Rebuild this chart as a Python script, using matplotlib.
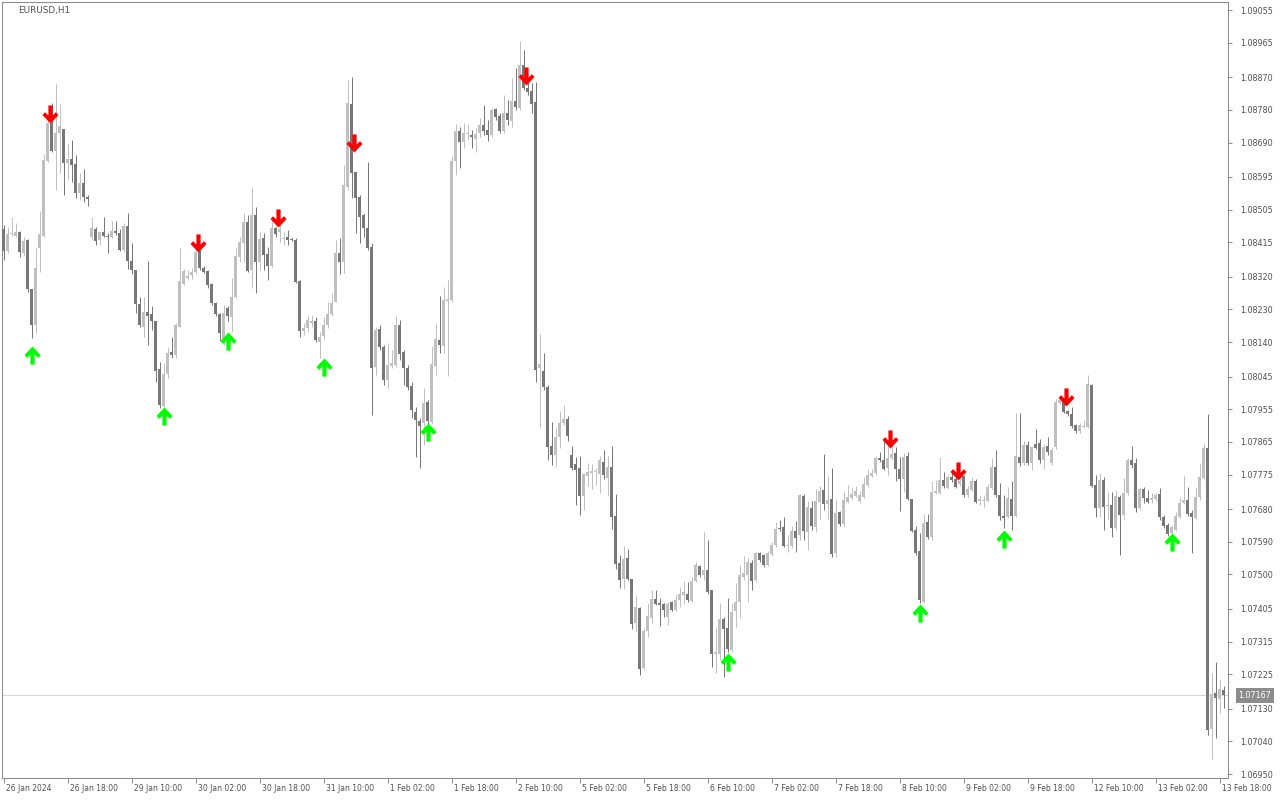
import matplotlib
matplotlib.use('Agg')
import matplotlib.pyplot as plt
import matplotlib.transforms as mtransforms
from matplotlib.path import Path
import numpy as np

# EURUSD H1, 26 Jan 2024 02:00 -> 13 Feb 2024 19:00 (306 bars)
opens = [
    1.08452, 1.08391, 1.08438, 1.08433, 1.08444, 1.08386, 1.08422, 1.08287, 1.08188, 1.08400,
    1.08433, 1.08639, 1.08744, 1.08667, 1.08717, 1.08727, 1.08634, 1.08645, 1.08631, 1.08552,
    1.08579, 1.08541, 1.08430, 1.08452, 1.08422, 1.08444, 1.08433, 1.08430, 1.08446, 1.08441,
    1.08394, 1.08461, 1.08364, 1.08339, 1.08246, 1.08183, 1.08224, 1.08218, 1.08199, 1.08066,
    1.07965, 1.08053, 1.08113, 1.08105, 1.08183, 1.08301, 1.08317, 1.08325, 1.08334, 1.08391,
    1.08345, 1.08337, 1.08301, 1.08249, 1.08218, 1.08149, 1.08235, 1.08210, 1.08265, 1.08375,
    1.08413, 1.08471, 1.08339, 1.08490, 1.08361, 1.08427, 1.08383, 1.08350, 1.08455, 1.08444,
    1.08424, 1.08430, 1.08424, 1.08422, 1.08309, 1.08171, 1.08180, 1.08193, 1.08197, 1.08141,
    1.08157, 1.08186, 1.08218, 1.08251, 1.08386, 1.08361, 1.08568, 1.08797, 1.08609, 1.08541,
    1.08490, 1.08455, 1.08402, 1.08072, 1.08177, 1.08127, 1.08036, 1.08075, 1.08077, 1.08186,
    1.08113, 1.08069, 1.08020, 1.07948, 1.07923, 1.07918, 1.07976, 1.07921, 1.08075, 1.08146,
    1.08130, 1.08254, 1.08257, 1.08639, 1.08722, 1.08692, 1.08714, 1.08711, 1.08700, 1.08717,
    1.08739, 1.08725, 1.08711, 1.08783, 1.08763, 1.08722, 1.08772, 1.08750, 1.08805, 1.08786,
    1.08904, 1.08841, 1.08832, 1.08802, 1.08069, 1.08061, 1.08017, 1.07854, 1.07829, 1.07879,
    1.07918, 1.07929, 1.07829, 1.07805, 1.07794, 1.07717, 1.07772, 1.07780, 1.07783, 1.07777,
    1.07810, 1.07766, 1.07797, 1.07662, 1.07532, 1.07488, 1.07546, 1.07488, 1.07367, 1.07408,
    1.07243, 1.07345, 1.07380, 1.07433, 1.07422, 1.07419, 1.07383, 1.07424, 1.07402, 1.07430,
    1.07444, 1.07446, 1.07427, 1.07482, 1.07524, 1.07499, 1.07513, 1.07458, 1.07281, 1.07281,
    1.07378, 1.07353, 1.07292, 1.07400, 1.07424, 1.07493, 1.07499, 1.07532, 1.07485, 1.07560,
    1.07554, 1.07526, 1.07557, 1.07582, 1.07628, 1.07631, 1.07579, 1.07579, 1.07620, 1.07609,
    1.07717, 1.07617, 1.07684, 1.07631, 1.07700, 1.07733, 1.07695, 1.07708, 1.07560, 1.07672,
    1.07639, 1.07700, 1.07711, 1.07717, 1.07703, 1.07714, 1.07747, 1.07772, 1.07780, 1.07821,
    1.07816, 1.07794, 1.07821, 1.07835, 1.07791, 1.07763, 1.07827, 1.07708, 1.07623, 1.07565,
    1.07424, 1.07645, 1.07604, 1.07725, 1.07725, 1.07761, 1.07739, 1.07769, 1.07763, 1.07750,
    1.07772, 1.07719, 1.07733, 1.07758, 1.07703, 1.07703, 1.07703, 1.07739, 1.07797, 1.07719,
    1.07661, 1.07659, 1.07708, 1.07661, 1.07824, 1.07808, 1.07857, 1.07808, 1.07860, 1.07862,
    1.07816, 1.07854, 1.07808, 1.07851, 1.07973, 1.07976, 1.07951, 1.07943, 1.07912, 1.07896,
    1.07907, 1.07907, 1.08022, 1.07747, 1.07684, 1.07761, 1.07689, 1.07692, 1.07628, 1.07714,
    1.07664, 1.07725, 1.07816, 1.07808, 1.07684, 1.07736, 1.07711, 1.07706, 1.07708, 1.07722,
    1.07659, 1.07637, 1.07615, 1.07623, 1.07659, 1.07697, 1.07706, 1.07670, 1.07656, 1.07714,
    1.07766, 1.07849, 1.07074, 1.07173, 1.07157, 1.07182,
]
highs = [
    1.08463, 1.08458, 1.08485, 1.08469, 1.08446, 1.08430, 1.08424, 1.08287, 1.08400, 1.08501,
    1.08659, 1.08758, 1.08800, 1.08852, 1.08797, 1.08727, 1.08689, 1.08697, 1.08656, 1.08607,
    1.08617, 1.08546, 1.08485, 1.08458, 1.08444, 1.08485, 1.08441, 1.08474, 1.08474, 1.08452,
    1.08469, 1.08496, 1.08413, 1.08339, 1.08265, 1.08265, 1.08364, 1.08240, 1.08199, 1.08086,
    1.08083, 1.08127, 1.08155, 1.08193, 1.08400, 1.08342, 1.08339, 1.08345, 1.08413, 1.08397,
    1.08350, 1.08339, 1.08303, 1.08251, 1.08221, 1.08243, 1.08240, 1.08317, 1.08400, 1.08430,
    1.08496, 1.08490, 1.08568, 1.08513, 1.08444, 1.08441, 1.08402, 1.08485, 1.08458, 1.08469,
    1.08444, 1.08449, 1.08430, 1.08427, 1.08312, 1.08193, 1.08215, 1.08215, 1.08210, 1.08168,
    1.08210, 1.08251, 1.08276, 1.08422, 1.08427, 1.08628, 1.08863, 1.08871, 1.08609, 1.08546,
    1.08496, 1.08637, 1.08413, 1.08183, 1.08188, 1.08133, 1.08138, 1.08119, 1.08213, 1.08202,
    1.08119, 1.08077, 1.08031, 1.07962, 1.07932, 1.08014, 1.07981, 1.08130, 1.08193, 1.08268,
    1.08292, 1.08312, 1.08656, 1.08741, 1.08733, 1.08744, 1.08741, 1.08725, 1.08730, 1.08758,
    1.08794, 1.08752, 1.08786, 1.08786, 1.08772, 1.08821, 1.08808, 1.08868, 1.08896, 1.08970,
    1.08945, 1.08857, 1.08854, 1.08857, 1.08163, 1.08111, 1.08022, 1.07921, 1.07904, 1.07951,
    1.07967, 1.07937, 1.07854, 1.07824, 1.07827, 1.07780, 1.07808, 1.07805, 1.07794, 1.07827,
    1.07843, 1.07827, 1.07854, 1.07722, 1.07554, 1.07579, 1.07571, 1.07488, 1.07444, 1.07411,
    1.07353, 1.07422, 1.07458, 1.07458, 1.07436, 1.07422, 1.07424, 1.07427, 1.07446, 1.07466,
    1.07482, 1.07480, 1.07493, 1.07535, 1.07526, 1.07617, 1.07595, 1.07458, 1.07356, 1.07422,
    1.07383, 1.07436, 1.07422, 1.07477, 1.07526, 1.07551, 1.07546, 1.07540, 1.07562, 1.07562,
    1.07557, 1.07565, 1.07590, 1.07645, 1.07650, 1.07659, 1.07609, 1.07634, 1.07648, 1.07722,
    1.07722, 1.07703, 1.07703, 1.07736, 1.07744, 1.07832, 1.07772, 1.07794, 1.07708, 1.07675,
    1.07730, 1.07747, 1.07739, 1.07744, 1.07730, 1.07769, 1.07791, 1.07791, 1.07827, 1.07838,
    1.07871, 1.07862, 1.07862, 1.07851, 1.07824, 1.07835, 1.07838, 1.07708, 1.07634, 1.07615,
    1.07667, 1.07667, 1.07758, 1.07761, 1.07824, 1.07783, 1.07775, 1.07788, 1.07772, 1.07775,
    1.07775, 1.07744, 1.07769, 1.07763, 1.07719, 1.07719, 1.07750, 1.07821, 1.07843, 1.07752,
    1.07719, 1.07741, 1.07758, 1.07945, 1.07945, 1.07868, 1.07868, 1.07854, 1.07901, 1.07873,
    1.07860, 1.07879, 1.07851, 1.07984, 1.07992, 1.07981, 1.07954, 1.07962, 1.07915, 1.07918,
    1.07926, 1.08050, 1.08025, 1.07775, 1.07780, 1.07769, 1.07728, 1.07728, 1.07733, 1.07719,
    1.07766, 1.07821, 1.07854, 1.07821, 1.07741, 1.07741, 1.07733, 1.07725, 1.07725, 1.07739,
    1.07664, 1.07642, 1.07637, 1.07672, 1.07714, 1.07772, 1.07741, 1.07678, 1.07741, 1.07808,
    1.07862, 1.07943, 1.07229, 1.07259, 1.07212, 1.07193,
]
lows = [
    1.08367, 1.08386, 1.08433, 1.08430, 1.08375, 1.08378, 1.08279, 1.08152, 1.08166, 1.08334,
    1.08430, 1.08637, 1.08665, 1.08560, 1.08607, 1.08546, 1.08587, 1.08582, 1.08538, 1.08532,
    1.08527, 1.08516, 1.08422, 1.08408, 1.08408, 1.08430, 1.08386, 1.08427, 1.08435, 1.08391,
    1.08389, 1.08342, 1.08328, 1.08221, 1.08183, 1.08155, 1.08133, 1.08174, 1.08031, 1.07959,
    1.07959, 1.08042, 1.08097, 1.08097, 1.08183, 1.08298, 1.08312, 1.08314, 1.08328, 1.08339,
    1.08331, 1.08290, 1.08243, 1.08213, 1.08144, 1.08133, 1.08197, 1.08168, 1.08262, 1.08361,
    1.08361, 1.08334, 1.08290, 1.08276, 1.08339, 1.08339, 1.08312, 1.08347, 1.08430, 1.08416,
    1.08408, 1.08408, 1.08419, 1.08303, 1.08155, 1.08160, 1.08168, 1.08183, 1.08141, 1.08097,
    1.08146, 1.08180, 1.08213, 1.08251, 1.08328, 1.08331, 1.08560, 1.08538, 1.08441, 1.08413,
    1.08430, 1.08394, 1.07940, 1.08050, 1.08119, 1.08022, 1.08014, 1.08069, 1.08072, 1.08091,
    1.08022, 1.08009, 1.07932, 1.07824, 1.07794, 1.07857, 1.07890, 1.07918, 1.08050, 1.08111,
    1.08111, 1.08047, 1.08251, 1.08601, 1.08620, 1.08675, 1.08697, 1.08675, 1.08665, 1.08706,
    1.08711, 1.08695, 1.08706, 1.08752, 1.08717, 1.08717, 1.08739, 1.08733, 1.08780, 1.08780,
    1.08835, 1.08821, 1.08772, 1.08031, 1.07904, 1.08009, 1.07816, 1.07802, 1.07797, 1.07849,
    1.07912, 1.07868, 1.07788, 1.07692, 1.07664, 1.07678, 1.07744, 1.07736, 1.07747, 1.07725,
    1.07764, 1.07717, 1.07626, 1.07515, 1.07463, 1.07460, 1.07485, 1.07350, 1.07342, 1.07223,
    1.07237, 1.07328, 1.07367, 1.07416, 1.07358, 1.07383, 1.07361, 1.07400, 1.07400, 1.07411,
    1.07419, 1.07424, 1.07424, 1.07480, 1.07493, 1.07485, 1.07446, 1.07245, 1.07229, 1.07265,
    1.07218, 1.07287, 1.07287, 1.07356, 1.07380, 1.07485, 1.07424, 1.07458, 1.07480, 1.07535,
    1.07521, 1.07524, 1.07551, 1.07576, 1.07620, 1.07576, 1.07562, 1.07573, 1.07562, 1.07595,
    1.07595, 1.07568, 1.07623, 1.07617, 1.07650, 1.07678, 1.07653, 1.07549, 1.07549, 1.07634,
    1.07634, 1.07697, 1.07706, 1.07714, 1.07697, 1.07711, 1.07741, 1.07769, 1.07775, 1.07810,
    1.07788, 1.07775, 1.07816, 1.07758, 1.07675, 1.07728, 1.07706, 1.07617, 1.07554, 1.07422,
    1.07422, 1.07598, 1.07595, 1.07722, 1.07722, 1.07739, 1.07736, 1.07755, 1.07739, 1.07744,
    1.07714, 1.07714, 1.07730, 1.07697, 1.07692, 1.07686, 1.07700, 1.07736, 1.07714, 1.07650,
    1.07628, 1.07656, 1.07623, 1.07659, 1.07799, 1.07802, 1.07802, 1.07788, 1.07846, 1.07808,
    1.07791, 1.07829, 1.07802, 1.07846, 1.07970, 1.07945, 1.07937, 1.07904, 1.07890, 1.07890,
    1.07904, 1.07904, 1.07741, 1.07659, 1.07659, 1.07623, 1.07650, 1.07604, 1.07623, 1.07554,
    1.07650, 1.07719, 1.07794, 1.07672, 1.07678, 1.07697, 1.07697, 1.07697, 1.07703, 1.07650,
    1.07628, 1.07606, 1.07601, 1.07620, 1.07656, 1.07695, 1.07661, 1.07560, 1.07650, 1.07706,
    1.07761, 1.07058, 1.06992, 1.07050, 1.07118, 1.07132,
]
closes = [
    1.08391, 1.08438, 1.08438, 1.08444, 1.08389, 1.08419, 1.08287, 1.08188, 1.08345, 1.08438,
    1.08642, 1.08744, 1.08667, 1.08717, 1.08736, 1.08634, 1.08645, 1.08629, 1.08552, 1.08579,
    1.08541, 1.08535, 1.08455, 1.08419, 1.08444, 1.08433, 1.08430, 1.08446, 1.08441, 1.08394,
    1.08461, 1.08364, 1.08339, 1.08246, 1.08186, 1.08224, 1.08213, 1.08197, 1.08061, 1.07967,
    1.08053, 1.08111, 1.08105, 1.08186, 1.08309, 1.08337, 1.08323, 1.08334, 1.08389, 1.08345,
    1.08334, 1.08298, 1.08249, 1.08218, 1.08166, 1.08221, 1.08213, 1.08265, 1.08378, 1.08416,
    1.08471, 1.08337, 1.08490, 1.08361, 1.08424, 1.08380, 1.08350, 1.08455, 1.08438, 1.08452,
    1.08427, 1.08422, 1.08422, 1.08306, 1.08171, 1.08180, 1.08202, 1.08199, 1.08146, 1.08155,
    1.08186, 1.08218, 1.08249, 1.08386, 1.08361, 1.08573, 1.08800, 1.08607, 1.08538, 1.08485,
    1.08455, 1.08400, 1.08069, 1.08174, 1.08127, 1.08036, 1.08077, 1.08083, 1.08188, 1.08108,
    1.08069, 1.08017, 1.07954, 1.07926, 1.07909, 1.07973, 1.07923, 1.08080, 1.08149, 1.08133,
    1.08257, 1.08259, 1.08639, 1.08722, 1.08692, 1.08717, 1.08714, 1.08706, 1.08714, 1.08739,
    1.08722, 1.08711, 1.08780, 1.08761, 1.08722, 1.08772, 1.08752, 1.08805, 1.08788, 1.08904,
    1.08841, 1.08830, 1.08797, 1.08064, 1.08080, 1.08017, 1.07851, 1.07829, 1.07879, 1.07918,
    1.07929, 1.07882, 1.07794, 1.07788, 1.07717, 1.07777, 1.07783, 1.07786, 1.07783, 1.07816,
    1.07775, 1.07797, 1.07659, 1.07529, 1.07485, 1.07543, 1.07488, 1.07364, 1.07411, 1.07240,
    1.07345, 1.07386, 1.07433, 1.07419, 1.07416, 1.07402, 1.07419, 1.07402, 1.07430, 1.07446,
    1.07452, 1.07430, 1.07482, 1.07526, 1.07499, 1.07513, 1.07452, 1.07281, 1.07287, 1.07378,
    1.07350, 1.07295, 1.07397, 1.07424, 1.07499, 1.07504, 1.07535, 1.07482, 1.07560, 1.07540,
    1.07526, 1.07560, 1.07582, 1.07626, 1.07626, 1.07579, 1.07582, 1.07620, 1.07601, 1.07719,
    1.07620, 1.07686, 1.07634, 1.07703, 1.07730, 1.07695, 1.07706, 1.07557, 1.07670, 1.07639,
    1.07706, 1.07714, 1.07722, 1.07730, 1.07719, 1.07750, 1.07775, 1.07780, 1.07821, 1.07816,
    1.07791, 1.07821, 1.07832, 1.07791, 1.07763, 1.07824, 1.07708, 1.07620, 1.07560, 1.07430,
    1.07642, 1.07604, 1.07728, 1.07730, 1.07761, 1.07744, 1.07769, 1.07761, 1.07741, 1.07758,
    1.07719, 1.07736, 1.07758, 1.07700, 1.07708, 1.07706, 1.07741, 1.07797, 1.07719, 1.07661,
    1.07656, 1.07711, 1.07661, 1.07827, 1.07808, 1.07857, 1.07808, 1.07851, 1.07849, 1.07816,
    1.07851, 1.07838, 1.07843, 1.07976, 1.07981, 1.07948, 1.07943, 1.07909, 1.07896, 1.07912,
    1.07909, 1.08025, 1.07744, 1.07684, 1.07761, 1.07686, 1.07692, 1.07628, 1.07717, 1.07664,
    1.07725, 1.07816, 1.07802, 1.07684, 1.07736, 1.07711, 1.07700, 1.07711, 1.07719, 1.07659,
    1.07634, 1.07612, 1.07631, 1.07661, 1.07697, 1.07706, 1.07667, 1.07659, 1.07714, 1.07769,
    1.07849, 1.07072, 1.07171, 1.07160, 1.07185, 1.07167,
]

# eixo do tempo: um rótulo a cada 16 barras
date_ticks = [0, 16, 32, 48, 64, 80, 96, 112, 128, 144, 160, 176, 192, 208, 224, 240, 256, 272, 288, 304]
date_labels = ['26 Jan 2024', '26 Jan 18:00', '29 Jan 10:00', '30 Jan 02:00', '30 Jan 18:00',
               '31 Jan 10:00', '1 Feb 02:00', '1 Feb 18:00', '2 Feb 10:00', '5 Feb 02:00',
               '5 Feb 18:00', '6 Feb 10:00', '7 Feb 02:00', '7 Feb 18:00', '8 Feb 10:00',
               '9 Feb 02:00', '9 Feb 18:00', '12 Feb 10:00', '13 Feb 02:00', '13 Feb 18:00']
price_ticks = [1.09055, 1.08965, 1.08870, 1.08780, 1.08690, 1.08595, 1.08505, 1.08415,
               1.08320, 1.08230, 1.08140, 1.08045, 1.07955, 1.07865, 1.07775, 1.07680,
               1.07590, 1.07500, 1.07405, 1.07315, 1.07225, 1.07130, 1.07040, 1.06950]
current_price = 1.07167

# setas do indicador (barra, preço da ponta)
up_bars = [7, 40, 56, 80, 106, 181, 229, 250, 292]
up_tips = [1.08130, 1.07962, 1.08168, 1.08097, 1.07918, 1.07284, 1.07419, 1.07623, 1.07615]
down_bars = [12, 49, 69, 88, 131, 222, 239, 266]
down_tips = [1.08744, 1.08389, 1.08458, 1.08665, 1.08849, 1.07849, 1.07761, 1.07965]

# cores
bull_col = '#c0c0c0'
bear_col = '#787878'
text_col = '#505050'
frame_col = '#8c8c8c'

o = np.array(opens)
h = np.array(highs)
l = np.array(lows)
c = np.array(closes)
x = np.arange(len(o))
bull = c >= o
cols = np.where(bull, bull_col, bear_col)

fig = plt.figure(figsize=(12.8, 8), dpi=100)
ax = fig.add_axes([2 / 1280, 22 / 800, 1226 / 1280, 776 / 800])

ax.axhline(current_price, color='#d4d4d4', lw=0.72, zorder=0)

# pavios e corpos
ax.vlines(x, l, h, colors=cols, linewidth=0.72, zorder=2)
body_low = np.minimum(o, c)
body_h = np.maximum(np.abs(c - o), 0.00003)
ax.bar(x, body_h, bottom=body_low, width=0.75, color=cols, linewidth=0, zorder=3)

# marcador de seta (ponta na origem), formato de chevron com haste
up_verts = [(0, 0), (8, -8.5), (5.4, -11.3), (2.1, -8.0), (2.1, -18), (-2.1, -18), (-2.1, -8.0),
            (-5.4, -11.3), (-8, -8.5), (0, 0)]
codes = [Path.MOVETO] + [Path.LINETO] * 8 + [Path.CLOSEPOLY]
up_arrow = Path(up_verts, codes)
down_arrow = Path([(vx, -vy) for vx, vy in up_verts], codes)

ax.plot(up_bars, up_tips, ls='none', marker=up_arrow, markersize=26,
        color='#00ff00', markeredgewidth=0, zorder=5)
ax.plot(np.array(down_bars) - 0.4, down_tips, ls='none', marker=down_arrow, markersize=26,
        color='#ff0000', markeredgewidth=0, zorder=5)

ax.set_xlim(-0.375, 306.125)
ax.set_ylim(1.069392, 1.090771)

for s in ax.spines.values():
    s.set_color(frame_col)
    s.set_linewidth(0.75)

ax.yaxis.tick_right()
ax.set_yticks(price_ticks)
ax.set_yticklabels([f'{p:.5f}' for p in price_ticks])
ax.tick_params(axis='y', direction='out', length=3, width=0.72, color=frame_col,
               labelsize=5.8, labelcolor=text_col, pad=6)

ax.set_xticks(date_ticks)
ax.set_xticklabels(date_labels)
ax.tick_params(axis='x', direction='out', length=3.6, width=0.72, color=frame_col,
               labelsize=5.5, labelcolor=text_col, pad=1)
shift = mtransforms.ScaledTranslation(3 / 100, 0, fig.dpi_scale_trans)
for lab in ax.get_xticklabels():
    lab.set_horizontalalignment('left')
    lab.set_transform(lab.get_transform() + shift)

# preço atual na escala
ax.text(1.0085, current_price, f'{current_price:.5f}', transform=ax.get_yaxis_transform(),
        ha='left', va='center', fontsize=5.8, color='white', zorder=10, clip_on=False,
        bbox=dict(boxstyle='square,pad=0.35', fc='#8c8c8c', ec='none'))

fig.text(18 / 1280, 1 - 10 / 800, 'EURUSD,H1', ha='left', va='center', fontsize=6.4, color=text_col)

fig.savefig('out.png', dpi=100)
